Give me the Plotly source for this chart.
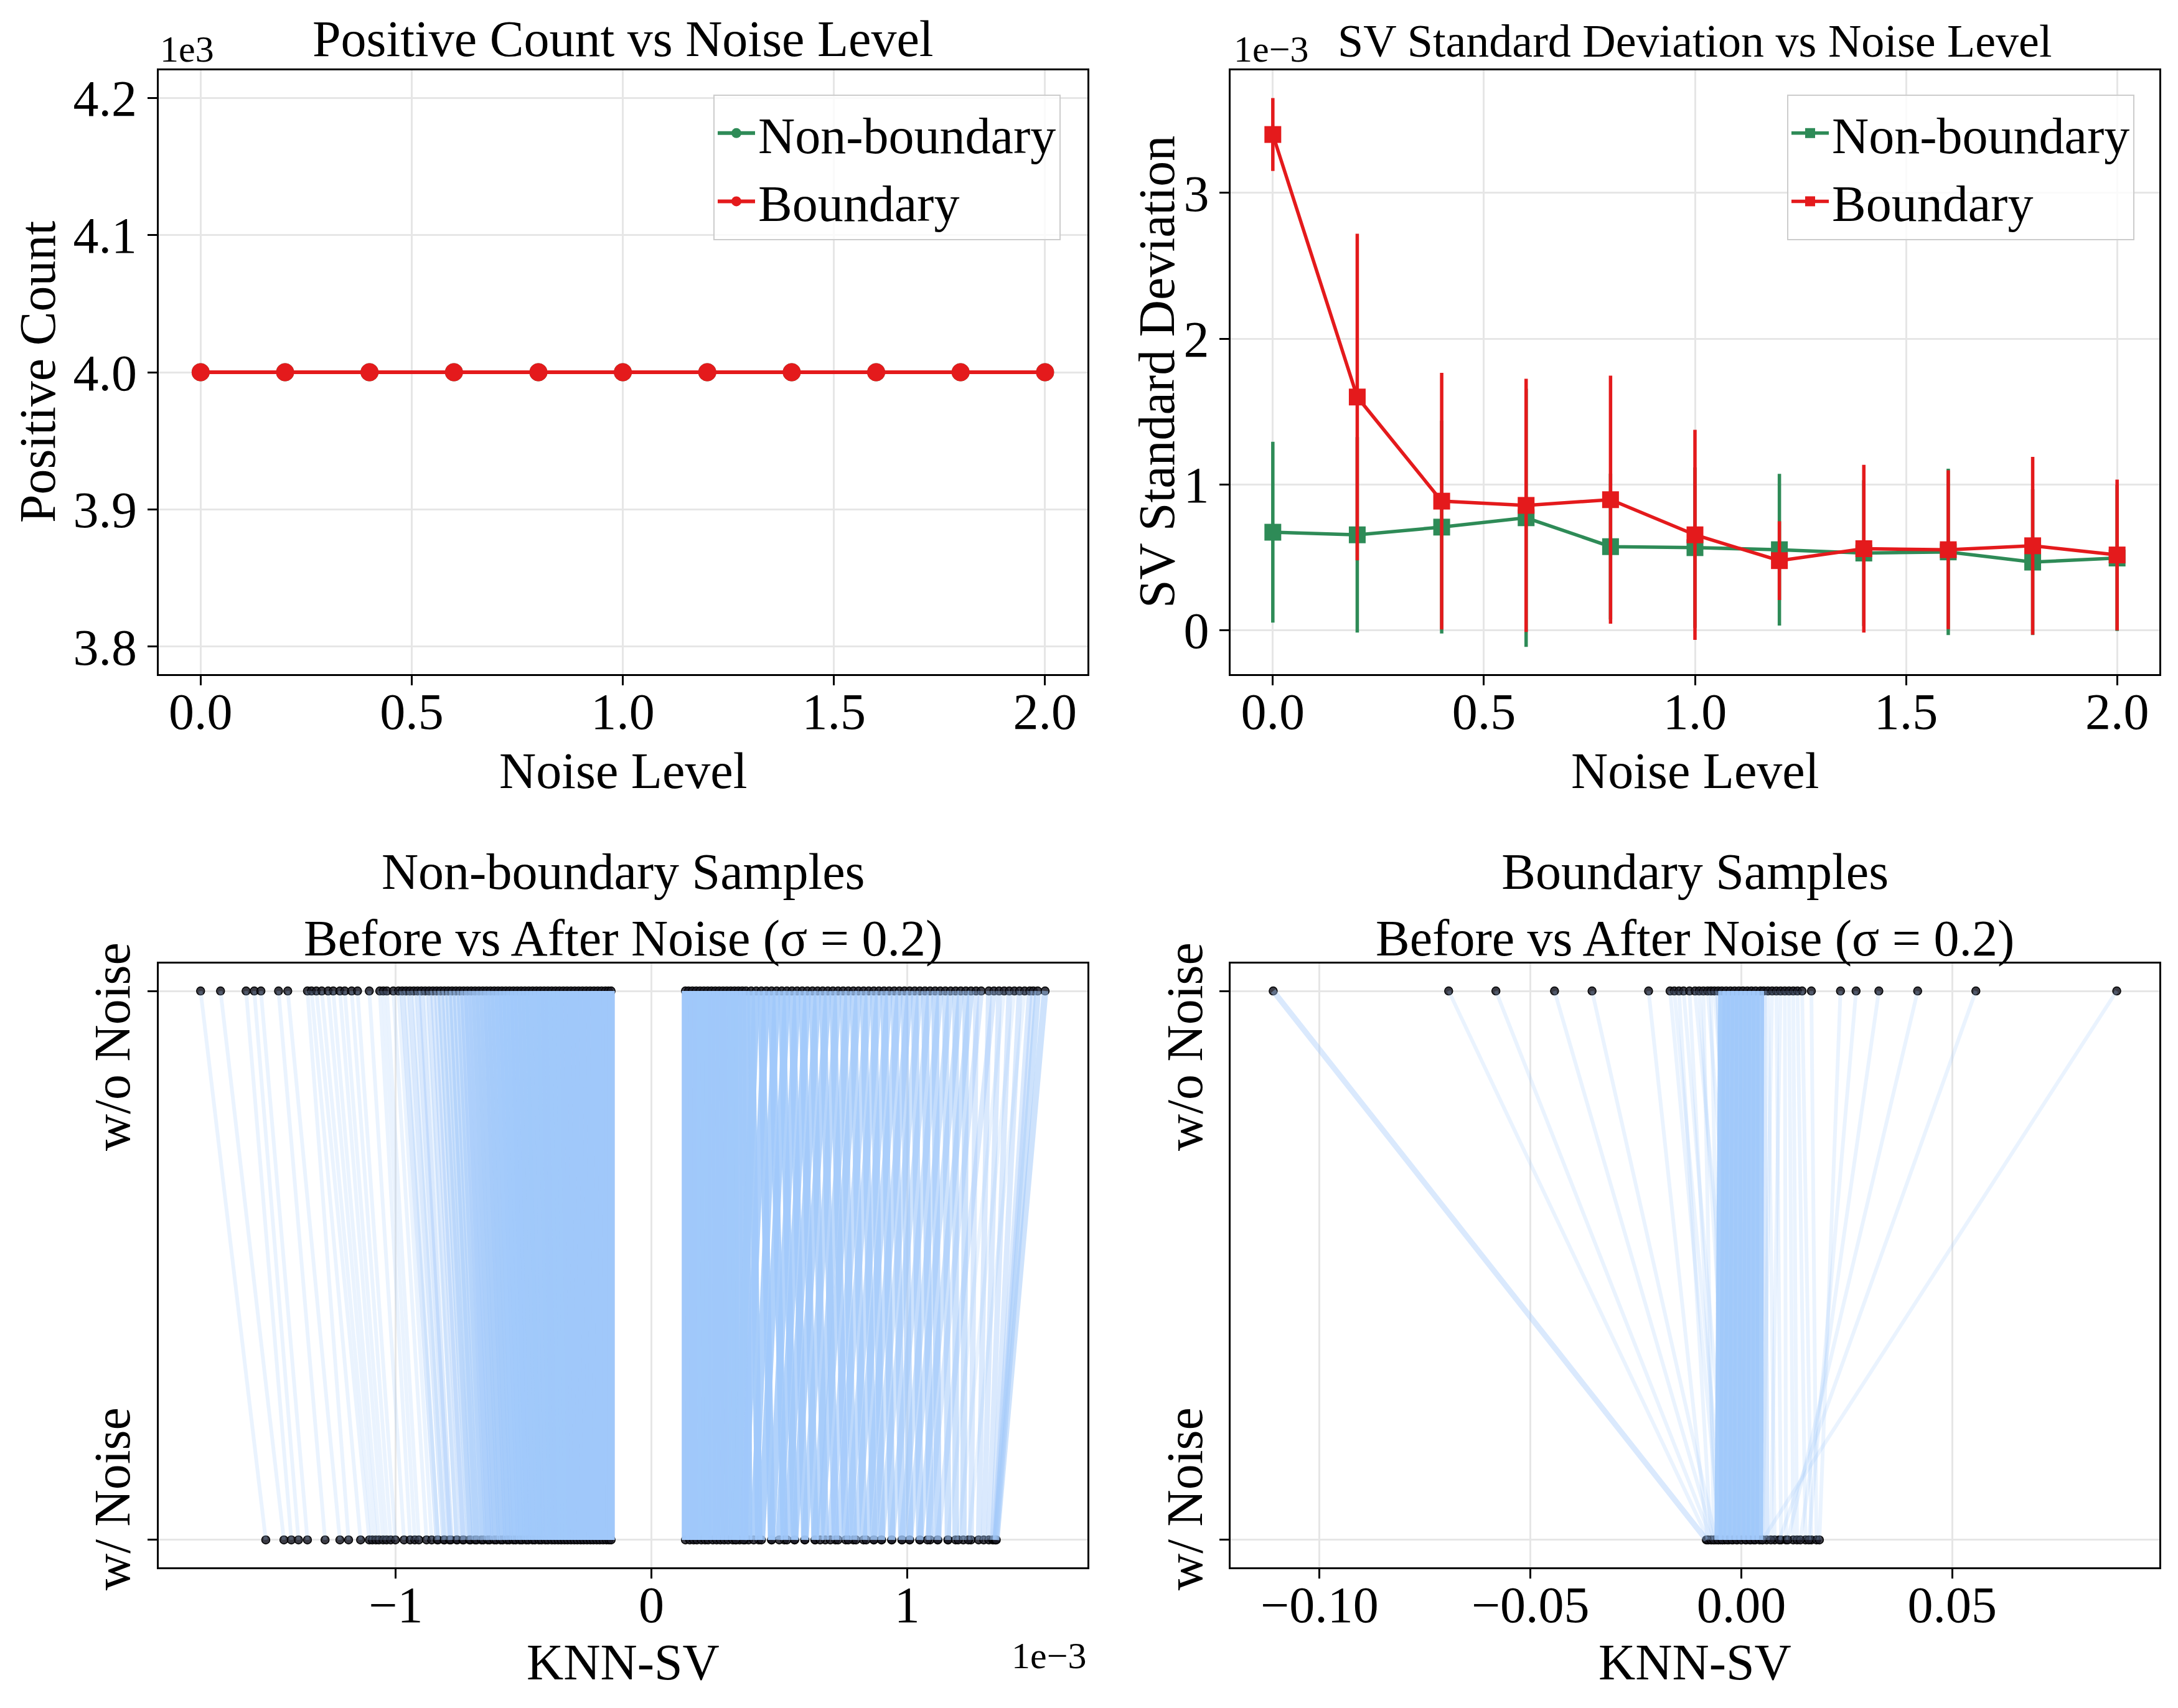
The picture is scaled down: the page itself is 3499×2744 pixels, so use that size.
import plotly.graph_objects as go

# ---------------- data ----------------
noise_levels = [0.0, 0.2, 0.4, 0.6, 0.8, 1.0, 1.2, 1.4, 1.6, 1.8, 2.0]

pos_count_nonboundary = [4000, 4000, 4000, 4000, 4000, 4000, 4000, 4000, 4000, 4000, 4000]
pos_count_boundary = [4000, 4000, 4000, 4000, 4000, 4000, 4000, 4000, 4000, 4000, 4000]
pos_count_err = [0, 0, 0, 0, 0, 0, 0, 0, 0, 0, 0]
pos_ticks = [3800, 3900, 4000, 4100, 4200]

# SV standard deviation, in units of 1e-3
sv_std_nonboundary = [0.673, 0.655, 0.708, 0.772, 0.574, 0.567, 0.553, 0.530, 0.538, 0.468, 0.496]
sv_std_nonboundary_err = [0.62, 0.67, 0.73, 0.885, 0.50, 0.55, 0.52, 0.50, 0.57, 0.50, 0.50]
sv_std_boundary = [3.40, 1.60, 0.886, 0.857, 0.896, 0.655, 0.478, 0.560, 0.553, 0.580, 0.517]
sv_std_boundary_err = [0.25, 1.12, 0.88, 0.868, 0.85, 0.72, 0.27, 0.575, 0.545, 0.61, 0.517]

# Non-boundary KNN-SV (units of 1e-3): before noise, after noise, samples per line
nb_before = [-1.764, -1.686, -1.586, -1.554, -1.528, -1.459, -1.423, -1.346, -1.330, -1.311,
             -1.290, -1.265, -1.245, -1.219, -1.200, -1.173, -1.150, -1.104, -1.063, -1.049,
             -1.035,
             -1.010, -0.990, -0.975, -0.960, -0.945, -0.930, -0.915, -0.900, -0.885, -0.870,
             -0.855, -0.840, -0.825, -0.810, -0.795, -0.780, -0.765, -0.750, -0.735, -0.720,
             -0.705, -0.690, -0.675, -0.660, -0.645, -0.630, -0.615, -0.600, -0.585, -0.570,
             -0.555, -0.540, -0.525, -0.510, -0.495, -0.480, -0.465, -0.450, -0.435,
             -0.420, -0.405, -0.390, -0.375, -0.360, -0.345, -0.330, -0.315, -0.300, -0.285,
             -0.270, -0.255, -0.240, -0.225, -0.210, -0.195, -0.180, -0.168, -0.158,
             0.133, 0.145, 0.160, 0.175, 0.190, 0.205, 0.220, 0.235, 0.250, 0.265,
             0.280, 0.295, 0.310, 0.325, 0.340, 0.355, 0.370,
             0.390, 0.410, 0.430, 0.450, 0.470, 0.490, 0.510, 0.530, 0.550, 0.570,
             0.590, 0.610, 0.630, 0.650, 0.670, 0.690, 0.710, 0.730, 0.750, 0.770,
             0.790, 0.810, 0.830, 0.850, 0.870, 0.890, 0.910, 0.930, 0.950, 0.970,
             0.990, 1.010, 1.030, 1.050, 1.070, 1.090, 1.110, 1.130, 1.150, 1.170,
             1.190, 1.210, 1.230, 1.250,
             1.270, 1.290, 1.320, 1.340, 1.360, 1.380, 1.400, 1.420, 1.440, 1.460,
             1.480, 1.494, 1.511, 1.540]
nb_after = [-1.509, -1.438, -1.409, -1.381, -1.346, -1.277, -1.219, -1.185, -1.138, -1.104,
            -1.092, -1.078, -1.066, -1.050, -1.036, -1.020, -1.002, -0.968, -0.944, -0.926,
            -0.910,
            -0.880, -0.860, -0.838, -0.835, -0.812, -0.810, -0.790, -0.785, -0.762, -0.760,
            -0.738, -0.735, -0.712, -0.708, -0.690, -0.684, -0.665, -0.658, -0.640, -0.633,
            -0.615, -0.607, -0.590, -0.582, -0.565, -0.556, -0.540, -0.531, -0.515, -0.506,
            -0.490, -0.481, -0.465, -0.456, -0.440, -0.430, -0.415, -0.405, -0.390,
            -0.378, -0.365, -0.353, -0.340, -0.328, -0.315, -0.302, -0.290, -0.277, -0.265,
            -0.252, -0.239, -0.227, -0.214, -0.202, -0.189, -0.176, -0.166, -0.158,
            0.133, 0.150, 0.165, 0.178, 0.195, 0.210, 0.222, 0.240, 0.255, 0.270,
            0.285, 0.300, 0.318, 0.330, 0.345, 0.365, 0.380,
            0.420, 0.330, 0.470, 0.360, 0.520, 0.400, 0.560, 0.430, 0.600, 0.470,
            0.640, 0.500, 0.680, 0.530, 0.720, 0.560, 0.760, 0.600, 0.790, 0.640,
            0.830, 0.660, 0.870, 0.700, 0.900, 0.730, 0.940, 0.770, 0.980, 0.800,
            1.010, 0.840, 1.050, 0.870, 1.090, 0.900, 1.120, 0.940, 1.160, 0.980,
            1.190, 1.010, 1.220, 1.050,
            1.250, 1.080, 1.280, 1.120, 1.300, 1.160, 1.320, 1.200, 1.335, 1.240,
            1.340, 1.345, 1.347, 1.349]
nb_count = [1, 1, 1, 1, 1, 1, 1, 1, 1, 1,
            1, 1, 1, 1, 1, 1, 1, 1, 1, 1,
            1,
            1, 1, 2, 1, 2, 1, 2, 2, 1, 2,
            2, 2, 3, 2, 3, 3, 3, 3, 4, 4,
            4, 5, 5, 5, 6, 6, 6, 7, 7, 8,
            8, 9, 9, 10, 10, 11, 12, 12, 14,
            16, 16, 18, 18, 18, 20, 20, 20, 20, 20,
            20, 20, 20, 20, 20, 20, 20, 20, 20,
            20, 20, 20, 20, 18, 18, 18, 16, 16, 16,
            15, 15, 14, 14, 12, 12, 12,
            11, 10, 10, 9, 9, 8, 8, 8, 7, 7,
            7, 7, 6, 6, 6, 6, 6, 5, 5, 5,
            5, 5, 5, 4, 5, 4, 5, 4, 4, 4,
            4, 4, 4, 3, 4, 3, 4, 3, 3, 3,
            3, 3, 3, 3,
            2, 2, 2, 2, 2, 1, 2, 1, 2, 1,
            2, 2, 3, 3]

# Boundary KNN-SV: before noise, after noise, samples per line
b_before = [-0.1110, -0.0694, -0.0582, -0.0443, -0.0354, -0.0220, -0.0169, -0.0159, -0.0148, -0.0137,
            -0.0123, -0.0110, -0.0100, -0.0090, -0.0080, -0.0072, -0.0064, -0.0055,
            -0.0046, -0.0036, -0.0026, -0.0016, -0.0006, 0.0004, 0.0014, 0.0024, 0.0034, 0.0045,
            0.0053, 0.0063, 0.0073, 0.0083, 0.0093, 0.0103, 0.0113, 0.0123, 0.0133, 0.0144,
            0.0166, 0.0235, 0.0272, 0.0326, 0.0418, 0.0556, 0.0890]
b_after = [-0.0083, -0.0078, -0.0070, -0.0065, -0.0060, -0.0080, -0.0050, -0.0040, -0.0072, -0.0030,
           -0.0055, 0.0010, -0.0020, -0.0065, 0.0020, -0.0045, 0.0030, -0.0010,
           -0.0055, -0.0045, -0.0033, -0.0022, -0.0011, 0.0000, 0.0011, 0.0022, 0.0033, 0.0043,
           0.0060, 0.0079, 0.0050, 0.0094, 0.0070, 0.0106, 0.0123, 0.0132, 0.0152, 0.0166,
           0.0178, 0.0185, 0.0160, 0.0140, 0.0110, 0.0090, 0.0050]
b_count = [2, 1, 1, 1, 1, 1, 1, 1, 1, 1,
           1, 1, 1, 1, 1, 1, 1, 2,
           10, 12, 12, 12, 12, 12, 12, 12, 12, 10,
           2, 1, 1, 1, 1, 1, 1, 1, 1, 1,
           1, 1, 1, 1, 1, 1, 1]

row_labels = ["w/ Noise", "w/o Noise"]

# ---------------- style / layout ----------------
W, H = 3499, 2744
FONT = "Liberation Serif, Times New Roman, Times, serif"
GREEN = "#2e8b57"
RED = "#e41a1c"
LINE_RGB = (160, 200, 250)
LINE_ALPHA = 0.22
DOT_COLOR = "rgba(25,25,35,0.85)"

# axes boxes in pixels (left, right, top, bottom)
L1, R1 = 254.5, 1746.7
L2, R2 = 1977.0, 3469.0
T1, B1 = 113.0, 1083.0
T2, B2 = 1548.0, 2518.0


def px(x):
    return x / W


def py(y):
    return 1 - y / H


def line_alpha(n):
    return 1 - (1 - LINE_ALPHA) ** n


def line_width(n):
    return 6 if n <= 1 else min(6 + 1.5 * n, 12)


fig = go.Figure()

# --- top-left: positive count ---
fig.add_trace(go.Scatter(x=noise_levels, y=pos_count_nonboundary, name="Non-boundary",
                         mode="lines+markers", line=dict(color=GREEN, width=6),
                         marker=dict(symbol="circle", size=29, color=GREEN),
                         error_y=dict(type="data", array=pos_count_err, color=GREEN, thickness=6, width=0),
                         xaxis="x", yaxis="y", legend="legend"))
fig.add_trace(go.Scatter(x=noise_levels, y=pos_count_boundary, name="Boundary",
                         mode="lines+markers", line=dict(color=RED, width=6),
                         marker=dict(symbol="circle", size=29, color=RED),
                         error_y=dict(type="data", array=pos_count_err, color=RED, thickness=6, width=0),
                         xaxis="x", yaxis="y", legend="legend"))

# --- top-right: SV std ---
fig.add_trace(go.Scatter(x=noise_levels, y=sv_std_nonboundary, name="Non-boundary",
                         mode="lines+markers", line=dict(color=GREEN, width=5.5),
                         marker=dict(symbol="square", size=27, color=GREEN),
                         error_y=dict(type="data", array=sv_std_nonboundary_err, color=GREEN, thickness=5.5, width=0),
                         xaxis="x2", yaxis="y2", legend="legend2"))
fig.add_trace(go.Scatter(x=noise_levels, y=sv_std_boundary, name="Boundary",
                         mode="lines+markers", line=dict(color=RED, width=5.5),
                         marker=dict(symbol="square", size=27, color=RED),
                         error_y=dict(type="data", array=sv_std_boundary_err, color=RED, thickness=5.5, width=0),
                         xaxis="x2", yaxis="y2", legend="legend2"))


def add_before_after(before, after, count, xa, ya):
    fig.add_trace(go.Scatter(x=before, y=[1] * len(before), mode="markers",
                             marker=dict(size=13, color=DOT_COLOR, line=dict(color="black", width=1.5)),
                             showlegend=False, hoverinfo="skip", xaxis=xa, yaxis=ya))
    fig.add_trace(go.Scatter(x=after, y=[0] * len(after), mode="markers",
                             marker=dict(size=13, color=DOT_COLOR, line=dict(color="black", width=1.5)),
                             showlegend=False, hoverinfo="skip", xaxis=xa, yaxis=ya))
    r, g, bl = LINE_RGB
    for b, a, n in zip(before, after, count):
        fig.add_trace(go.Scatter(x=[b, a], y=[1, 0], mode="lines",
                                 line=dict(color=f"rgba({r},{g},{bl},{line_alpha(n):.3f})",
                                           width=line_width(n)),
                                 showlegend=False, hoverinfo="skip", xaxis=xa, yaxis=ya))


add_before_after(nb_before, nb_after, nb_count, "x3", "y3")
add_before_after(b_before, b_after, b_count, "x4", "y4")

axis_common = dict(showline=True, linecolor="black", linewidth=3, mirror=True,
                   ticks="outside", ticklen=15, tickwidth=3, tickcolor="black",
                   showgrid=True, gridcolor="#e6e6e6", gridwidth=2.5, zeroline=False,
                   automargin=False,
                   tickfont=dict(family=FONT, size=82, color="black"))
xaxis_common = dict(axis_common, ticklabelstandoff=-28)

noise_ticks = [0.0, 0.5, 1.0, 1.5, 2.0]
noise_ticktext = [f"{v:.1f}" for v in noise_ticks]

legend_common = dict(xanchor="right", yanchor="top",
                     bgcolor="rgba(255,255,255,0.8)", bordercolor="#cccccc", borderwidth=2,
                     itemwidth=60, font=dict(family=FONT, size=82, color="black"))

fig.update_layout(
    width=W, height=H,
    margin=dict(l=0, r=0, t=0, b=0, pad=0, autoexpand=False),
    paper_bgcolor="white", plot_bgcolor="white",
    font=dict(family=FONT, size=82, color="black"),
    xaxis=dict(xaxis_common, domain=[px(L1), px(R1)], anchor="y", range=[-0.1, 2.1],
               tickvals=noise_ticks, ticktext=noise_ticktext),
    yaxis=dict(axis_common, domain=[py(B1), py(T1)], anchor="x", range=[3780, 4220],
               tickvals=pos_ticks, ticktext=[f"{v / 1000:.1f}" for v in pos_ticks]),
    xaxis2=dict(xaxis_common, domain=[px(L2), px(R2)], anchor="y2", range=[-0.1, 2.1],
                tickvals=noise_ticks, ticktext=noise_ticktext),
    yaxis2=dict(axis_common, domain=[py(B1), py(T1)], anchor="x2", range=[-0.30, 3.84],
                tickvals=[0, 1, 2, 3], ticktext=["0", "1", "2", "3"]),
    xaxis3=dict(xaxis_common, domain=[px(L1), px(R1)], anchor="y3", range=[-1.929, 1.705],
                tickvals=[-1, 0, 1], ticktext=["\u22121", "0", "1"]),
    yaxis3=dict(axis_common, domain=[py(B2), py(T2)], anchor="x3", range=[-0.05, 1.05],
                tickvals=[0, 1], ticktext=["", ""]),
    xaxis4=dict(xaxis_common, domain=[px(L2), px(R2)], anchor="y4", range=[-0.1211, 0.0991],
                tickvals=[-0.10, -0.05, 0.0, 0.05],
                ticktext=["\u22120.10", "\u22120.05", "0.00", "0.05"]),
    yaxis4=dict(axis_common, domain=[py(B2), py(T2)], anchor="x4", range=[-0.05, 1.05],
                tickvals=[0, 1], ticktext=["", ""]),
    legend=dict(legend_common, x=px(1704), y=py(152)),
    legend2=dict(legend_common, x=px(3429), y=py(152)),
)

ann = []


def text(t, x, y, size=82, xanchor="center", yanchor="middle", angle=0):
    ann.append(dict(text=t, x=px(x), y=py(y), xref="paper", yref="paper", showarrow=False,
                    xanchor=xanchor, yanchor=yanchor, textangle=angle,
                    font=dict(family=FONT, size=size, color="black")))


cx1 = (L1 + R1) / 2
cx2 = (L2 + R2) / 2
text("Positive Count vs Noise Level", cx1, 63)
text("SV Standard Deviation vs Noise Level", cx2, 66, size=74)
text("Non-boundary Samples<br>Before vs After Noise (\u03c3 = 0.2)", cx1, 1454)
text("Boundary Samples<br>Before vs After Noise (\u03c3 = 0.2)", cx2, 1454)
text("Noise Level", cx1, 1238)
text("Noise Level", cx2, 1238)
text("KNN-SV", cx1, 2670)
text("KNN-SV", cx2, 2670)
text("Positive Count", 60, (T1 + B1) / 2, angle=-90)
text("SV Standard Deviation", 1858, (T1 + B1) / 2, angle=-90)
text("1e3", L1, 79, size=60, xanchor="left")
text("1e\u22123", L2 + 3, 79, size=60, xanchor="left")
text("1e\u22123", R1, 2660, size=60, xanchor="right")
# rotated row labels of the before/after panels
text(row_labels[1], 180, 1682, angle=-90)
text(row_labels[0], 180, 2408, angle=-90)
text(row_labels[1], 1903, 1682, angle=-90)
text(row_labels[0], 1903, 2408, angle=-90)

fig.update_layout(annotations=ann)

fig.write_html("out.html")
